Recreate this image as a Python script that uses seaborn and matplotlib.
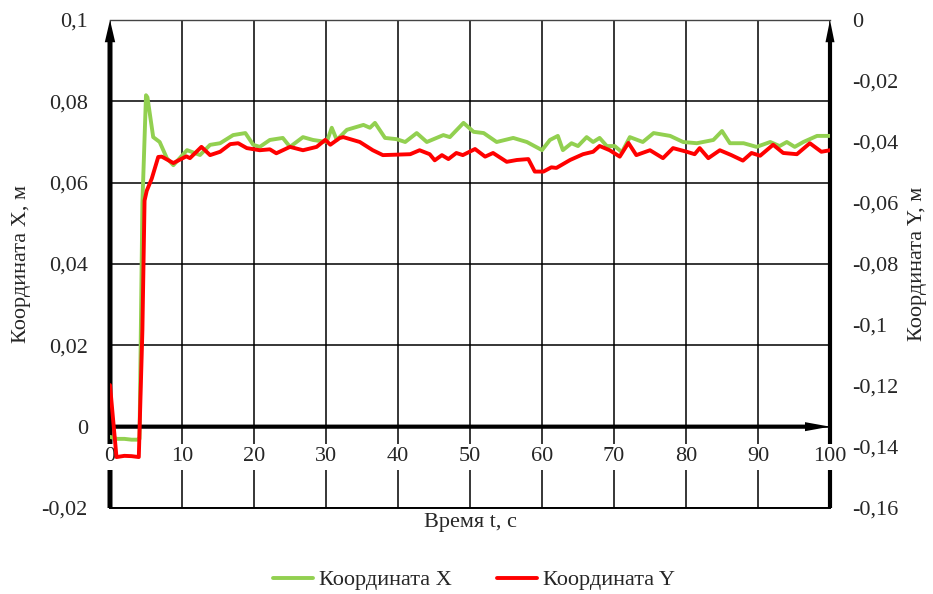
import matplotlib
matplotlib.use("Agg")
import matplotlib.pyplot as plt
import seaborn as sns

# X coordinate trace (left axis), metres
t_x = [0, 1, 2, 3, 3.8, 4.1, 4.5, 5.0, 5.2, 6.0, 6.9, 7.9, 8.8, 10.7, 12.5, 13.9,
       15.3, 17.1, 18.8, 19.9, 20.8, 22.2, 24, 25, 26.8, 28.2, 30.1, 30.8, 31.5,
       32.9, 35.2, 36.1, 36.8, 38.2, 39.8, 41, 42.6, 44, 46.3, 47.2, 49.1, 50.5,
       51.9, 53.7, 56, 57.9, 60, 61.1, 62.2, 62.9, 64.1, 65, 66.2, 67.1, 68, 69,
       70.1, 71.1, 72.2, 74, 75.5, 77.8, 79.6, 81.5, 83.8, 85, 86.1, 88, 89.8,
       91.7, 93, 94, 95.1, 96.3, 98.2, 100]
coord_x = [-0.0025, -0.003, -0.003, -0.0032, -0.0032, -0.003, 0.055, 0.0815, 0.081,
           0.0712, 0.070, 0.066, 0.0643, 0.068, 0.0668, 0.0693, 0.0697, 0.0717,
           0.0722, 0.0693, 0.0688, 0.0705, 0.071, 0.0688, 0.0712, 0.0705, 0.070,
           0.0735, 0.0705, 0.073, 0.0742, 0.0735, 0.0747, 0.071, 0.0707, 0.070,
           0.0722, 0.070, 0.0717, 0.0712, 0.0747, 0.0725, 0.0722, 0.070, 0.071,
           0.070, 0.068, 0.0705, 0.0715, 0.068, 0.0697, 0.069, 0.0712, 0.070,
           0.071, 0.069, 0.069, 0.0675, 0.0712, 0.070, 0.0722, 0.0715, 0.070,
           0.0697, 0.0705, 0.0727, 0.0697, 0.0697, 0.0688, 0.070, 0.069, 0.070,
           0.0688, 0.070, 0.0715, 0.0715]

# Y coordinate trace (right axis), metres
t_y = [0, 0.9, 2, 3, 4.0, 4.5, 4.8, 5.1, 5.8, 6.7, 7.2, 8.8, 10.6, 11.1, 12.7, 13.9,
       15.3, 16.7, 17.8, 19, 20.8, 22.2, 23.1, 25, 26.8, 28.7, 29.9, 30.6, 31.9,
       32.4, 34.7, 36.5, 37.9, 41.7, 43, 44.4, 45.1, 46.1, 47, 48.1, 49, 50.7,
       52.1, 53.2, 55.1, 56.5, 58.1, 59.0, 60.2, 61.3, 62, 63.9, 65.7, 67.1, 68,
       69.4, 70.8, 72, 73.1, 75, 76.8, 78.2, 80.1, 81.2, 81.9, 83.1, 84.7, 86.3,
       87.9, 89.1, 90.3, 92.1, 93.5, 95.4, 97.2, 98.8, 100]
coord_y = [-0.1197, -0.1433, -0.1429, -0.1430, -0.1433, -0.1016, -0.0592, -0.056,
           -0.052, -0.0449, -0.0448, -0.0469, -0.0447, -0.0453, -0.0416, -0.0443,
           -0.0432, -0.0407, -0.0404, -0.042, -0.0427, -0.0424, -0.0437, -0.0416,
           -0.0427, -0.0416, -0.0393, -0.0409, -0.0387, -0.0384, -0.040, -0.0427,
           -0.0443, -0.044, -0.0427, -0.044, -0.046, -0.0443, -0.0456, -0.0436,
           -0.0443, -0.0423, -0.0448, -0.0436, -0.0465, -0.0459, -0.0456, -0.0497,
           -0.0497, -0.0483, -0.0485, -0.0459, -0.044, -0.0432, -0.0413, -0.0427,
           -0.0448, -0.0403, -0.0443, -0.0427, -0.0453, -0.042, -0.0432, -0.044,
           -0.042, -0.0453, -0.0427, -0.0443, -0.0461, -0.0436, -0.0445, -0.0409,
           -0.0436, -0.044, -0.0404, -0.0432, -0.0427]

x_ticks = [0, 10, 20, 30, 40, 50, 60, 70, 80, 90, 100]
x_tick_labels = ["0", "10", "20", "30", "40", "50", "60", "70", "80", "90", "100"]
left_ticks = [-0.02, 0.0, 0.02, 0.04, 0.06, 0.08, 0.1]
left_tick_labels = ["-0,02", "0", "0,02", "0,04", "0,06", "0,08", "0,1"]
right_ticks = [-0.16, -0.14, -0.12, -0.1, -0.08, -0.06, -0.04, -0.02, 0.0]
right_tick_labels = ["-0,16", "-0,14", "-0,12", "-0,1", "-0,08", "-0,06",
                     "-0,04", "-0,02", "0"]

series_names = ["Координата X", "Координата Y"]
series_colors = ["#92D050", "#FF0000"]

sns.set_style("white")
plt.rcParams["font.family"] = ["Liberation Serif", "DejaVu Serif"]
FS = 16

fig = plt.figure(figsize=(9.33, 5.94), dpi=100)
ax = fig.add_axes([110 / 933, 1 - 508 / 594, 720 / 933, 488 / 594])
ax2 = ax.twinx()

sns.lineplot(x=t_x, y=coord_x, ax=ax, color=series_colors[0], lw=2.8, legend=False, zorder=2)
sns.lineplot(x=t_y, y=coord_y, ax=ax2, color=series_colors[1], lw=2.8, legend=False, zorder=2)

# left axis
ax.set_xlim(0, 100)
ax.set_ylim(-0.02, 0.1)
ax.set_xticks(x_ticks)
ax.set_xticklabels([])
ax.set_yticks(left_ticks)
ax.set_yticklabels(left_tick_labels, fontsize=FS)
ax.tick_params(axis="both", length=0)
ax.tick_params(axis="y", pad=16)
ax.grid(True, color="black", lw=1.1)
ax.set_axisbelow(True)
for side in ("left", "right"):
    ax.spines[side].set_visible(False)
ax.spines["top"].set_color("#444444")
ax.spines["top"].set_linewidth(1.0)
ax.spines["bottom"].set_color("black")
ax.spines["bottom"].set_linewidth(1.4)

# right axis
ax2.set_ylim(-0.16, 0)
ax2.set_yticks(right_ticks)
ax2.set_yticklabels(right_tick_labels, fontsize=FS)
ax2.tick_params(axis="y", length=0, pad=16)
ax2.grid(False)
for side in ax2.spines:
    ax2.spines[side].set_visible(False)

# thick vertical axes with arrow heads
ax.annotate("", xy=(0, 1), xytext=(0, 0), xycoords="axes fraction",
            arrowprops=dict(width=3.6, headwidth=7.5, headlength=16, shrink=0,
                            lw=0, color="black"),
            zorder=0.4, annotation_clip=False)
ax.annotate("", xy=(1, 1), xytext=(1, 0), xycoords="axes fraction",
            arrowprops=dict(width=3.0, headwidth=6.5, headlength=16, shrink=0,
                            lw=0, color="black"),
            zorder=0.4, annotation_clip=False)

# time labels sit just under the zero line
for xv, lab in zip(x_ticks, x_tick_labels):
    ax.annotate(lab, xy=(xv, 0), xycoords="data", xytext=(0, -25),
                textcoords="offset points", ha="center", va="baseline",
                fontsize=FS,
                bbox=dict(boxstyle="square,pad=0.15", fc="white", ec="none"),
                zorder=1, annotation_clip=False)

# time axis along zero with arrow head
ax.annotate("", xy=(100, 0), xytext=(0, 0), xycoords="data",
            arrowprops=dict(width=3.0, headwidth=6.5, headlength=18, shrink=0,
                            lw=0, color="black"),
            zorder=3, annotation_clip=False)

ax.set_ylabel("Координата X, м", fontsize=FS)
ax.yaxis.label.set_va("center")
ax.yaxis.set_label_coords(-89 / 720, 0.5)
ax2.set_ylabel("Координата Y, м", fontsize=FS, rotation=90)
ax2.yaxis.label.set_va("center")
ax2.yaxis.set_label_coords(1 + 88 / 720, 0.5)
ax.set_xlabel("Время t, с", fontsize=FS)
ax.xaxis.label.set_va("center")
ax.xaxis.set_label_coords(0.5, -(523 - 508) / 488)

handles = [ax.lines[0], ax2.lines[0]]
fig.legend(handles, series_names, loc="center",
           bbox_to_anchor=(474 / 933, 1 - 580 / 594), ncol=2, frameon=False,
           fontsize=FS, handlelength=1.8, handletextpad=0.3, columnspacing=2.0)

fig.savefig("out.png", dpi=100)
